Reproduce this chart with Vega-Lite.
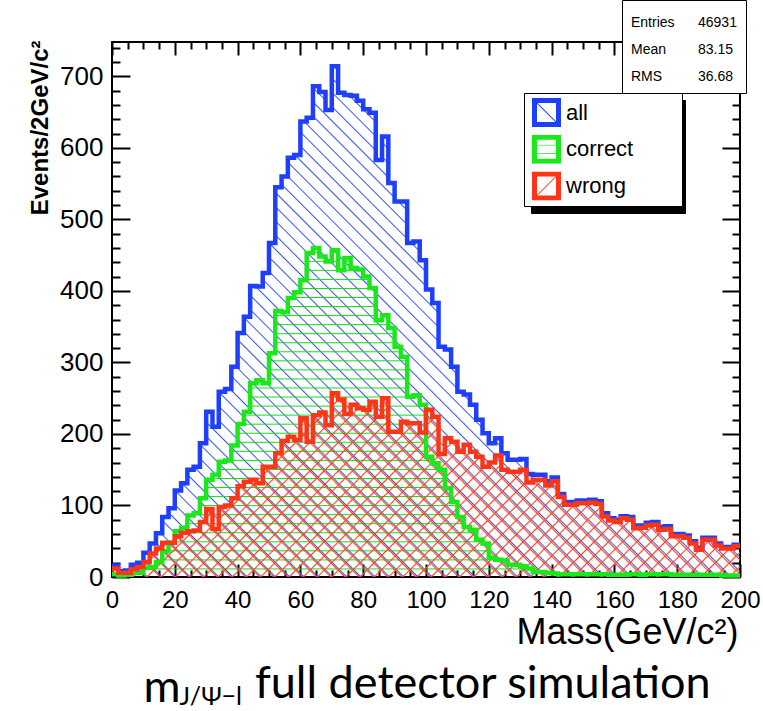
{
"$schema": "https://vega.github.io/schema/vega-lite/v6.json",
"width": 628, "height": 535,
"autosize": {"type": "none"},
"padding": {"left": 112, "top": 42, "right": 23, "bottom": 134},
"background": "white",
"config": {"view": {"stroke": "black", "strokeWidth": 2}, "font": "Liberation Sans", "axis": {"labelFont": "Liberation Sans", "titleFont": "Liberation Sans", "labelColor": "black", "titleColor": "black", "tickColor": "black"}},
"title": {"text": "full detector simulation", "orient": "top", "anchor": "start", "frame": "group", "align": "left", "baseline": "alphabetic", "dx": 143, "offset": -743, "font": "Lato", "fontSize": 45, "fontWeight": "normal", "color": "black"},
"datasets": {
"h": [
{"m":0,"all":16,"correct":4,"wrong":12},{"m":2,"all":8,"correct":2,"wrong":6},{"m":4,"all":9,"correct":3,"wrong":6},{"m":6,"all":17,"correct":6,"wrong":11},{"m":8,"all":20,"correct":6,"wrong":14},
{"m":10,"all":34,"correct":13,"wrong":21},{"m":12,"all":47,"correct":14,"wrong":33},{"m":14,"all":61,"correct":21,"wrong":40},{"m":16,"all":84,"correct":36,"wrong":48},{"m":18,"all":96,"correct":48,"wrong":48},
{"m":20,"all":121,"correct":64,"wrong":57},{"m":22,"all":131,"correct":69,"wrong":62},{"m":24,"all":150,"correct":86,"wrong":64},{"m":26,"all":154,"correct":89,"wrong":65},{"m":28,"all":187,"correct":110,"wrong":77},
{"m":30,"all":231,"correct":136,"wrong":95},{"m":32,"all":210,"correct":143,"wrong":67},{"m":34,"all":259,"correct":161,"wrong":98},{"m":36,"all":263,"correct":163,"wrong":100},{"m":38,"all":294,"correct":184,"wrong":110},
{"m":40,"all":341,"correct":214,"wrong":127},{"m":42,"all":364,"correct":231,"wrong":133},{"m":44,"all":407,"correct":271,"wrong":136},{"m":46,"all":406,"correct":275,"wrong":131},{"m":48,"all":425,"correct":271,"wrong":154},
{"m":50,"all":467,"correct":313,"wrong":154},{"m":52,"all":545,"correct":372,"wrong":173},{"m":54,"all":560,"correct":370,"wrong":190},{"m":56,"all":586,"correct":390,"wrong":196},{"m":58,"all":590,"correct":398,"wrong":192},
{"m":60,"all":637,"correct":415,"wrong":222},{"m":62,"all":642,"correct":453,"wrong":189},{"m":64,"all":686,"correct":460,"wrong":226},{"m":66,"all":678,"correct":448,"wrong":230},{"m":68,"all":653,"correct":441,"wrong":212},
{"m":70,"all":714,"correct":457,"wrong":257},{"m":72,"all":677,"correct":429,"wrong":248},{"m":74,"all":674,"correct":446,"wrong":228},{"m":76,"all":673,"correct":432,"wrong":241},{"m":78,"all":666,"correct":430,"wrong":236},
{"m":80,"all":654,"correct":420,"wrong":234},{"m":82,"all":649,"correct":404,"wrong":245},{"m":84,"all":583,"correct":359,"wrong":224},{"m":86,"all":616,"correct":366,"wrong":250},{"m":88,"all":551,"correct":348,"wrong":203},
{"m":90,"all":525,"correct":322,"wrong":203},{"m":92,"all":525,"correct":308,"wrong":217},{"m":94,"all":467,"correct":252,"wrong":215},{"m":96,"all":469,"correct":254,"wrong":215},{"m":98,"all":443,"correct":241,"wrong":202},
{"m":100,"all":402,"correct":168,"wrong":234},{"m":102,"all":383,"correct":159,"wrong":224},{"m":104,"all":322,"correct":150,"wrong":172},{"m":106,"all":318,"correct":124,"wrong":194},{"m":108,"all":294,"correct":105,"wrong":189},
{"m":110,"all":259,"correct":84,"wrong":175},{"m":112,"all":255,"correct":70,"wrong":185},{"m":114,"all":241,"correct":66,"wrong":175},{"m":116,"all":220,"correct":52,"wrong":168},{"m":118,"all":201,"correct":47,"wrong":154},
{"m":120,"all":187,"correct":27,"wrong":160},{"m":122,"all":194,"correct":24,"wrong":170},{"m":124,"all":173,"correct":23,"wrong":150},{"m":126,"all":164,"correct":17,"wrong":147},{"m":128,"all":164,"correct":17,"wrong":147},
{"m":130,"all":165,"correct":15,"wrong":150},{"m":132,"all":144,"correct":12,"wrong":132},{"m":134,"all":143,"correct":7,"wrong":136},{"m":136,"all":143,"correct":7,"wrong":136},{"m":138,"all":134,"correct":6,"wrong":128},
{"m":140,"all":139,"correct":5,"wrong":134},{"m":142,"all":116,"correct":4,"wrong":112},{"m":144,"all":105,"correct":4,"wrong":101},{"m":146,"all":105,"correct":4,"wrong":101},{"m":148,"all":107,"correct":4,"wrong":103},
{"m":150,"all":107,"correct":4,"wrong":103},{"m":152,"all":108,"correct":4,"wrong":104},{"m":154,"all":106,"correct":4,"wrong":102},{"m":156,"all":89,"correct":4,"wrong":85},{"m":158,"all":82,"correct":3,"wrong":79},
{"m":160,"all":80,"correct":3,"wrong":77},{"m":162,"all":85,"correct":3,"wrong":82},{"m":164,"all":84,"correct":4,"wrong":80},{"m":166,"all":72,"correct":4,"wrong":68},{"m":168,"all":72,"correct":3,"wrong":69},
{"m":170,"all":76,"correct":4,"wrong":72},{"m":172,"all":77,"correct":4,"wrong":73},{"m":174,"all":70,"correct":4,"wrong":66},{"m":176,"all":71,"correct":4,"wrong":67},{"m":178,"all":60,"correct":3,"wrong":57},
{"m":180,"all":60,"correct":3,"wrong":57},{"m":182,"all":58,"correct":3,"wrong":55},{"m":184,"all":50,"correct":3,"wrong":47},{"m":186,"all":41,"correct":3,"wrong":38},{"m":188,"all":55,"correct":3,"wrong":52},
{"m":190,"all":55,"correct":3,"wrong":52},{"m":192,"all":47,"correct":3,"wrong":44},{"m":194,"all":42,"correct":2,"wrong":40},{"m":196,"all":42,"correct":2,"wrong":40},{"m":198,"all":45,"correct":2,"wrong":43},
{"m":200,"all":45,"correct":2,"wrong":43}
],
"stats": [{"name":"Entries","val":"46931"},{"name":"Mean","val":"83.15"},{"name":"RMS","val":"36.68"}]
},
"resolve": {"axis": {"x": "independent", "y": "independent"}},
"layer": [
{
"data": {"name": "h"},
"transform": [{"fold": ["all","correct","wrong"], "as": ["k2","n2"]}],
"mark": {"type": "point", "opacity": 0},
"encoding": {
"fill": {"field": "k2", "type": "nominal", "scale": {"domain": ["s1","s2","s3"], "range": ["black","black","black"]},
"legend": {"orient": "none", "legendX": 419, "legendY": 58, "title": null, "symbolType": "square", "symbolSize": 576, "symbolStrokeWidth": 5, "symbolStrokeColor": "black", "symbolOffset": 3, "clipHeight": 29, "labelFontSize": 22, "labelFont": "Liberation Sans", "labelColor": "black", "labelOffset": 112, "rowPadding": 7.7, "padding": 5, "fillColor": "black", "strokeColor": "black", "labelExpr": "''"}}
}
},
{
"data": {"name": "h"},
"mark": {"type": "area", "interpolate": "step-after", "strokeWidth": 0,
"fill": {"gradient": "linear", "x1": 0, "y1": 1, "x2": 1.0914, "y2": 0.1125, "stops": [
{"offset":0.005,"color":"#35f0"},{"offset":0.00625,"color":"#35f"},{"offset":0.0075,"color":"#35f0"},
{"offset":0.0175,"color":"#35f0"},{"offset":0.01875,"color":"#35f"},{"offset":0.02,"color":"#35f0"},
{"offset":0.03,"color":"#35f0"},{"offset":0.03125,"color":"#35f"},{"offset":0.0325,"color":"#35f0"},
{"offset":0.0425,"color":"#35f0"},{"offset":0.04375,"color":"#35f"},{"offset":0.045,"color":"#35f0"},
{"offset":0.055,"color":"#35f0"},{"offset":0.05625,"color":"#35f"},{"offset":0.0575,"color":"#35f0"},
{"offset":0.0675,"color":"#35f0"},{"offset":0.06875,"color":"#35f"},{"offset":0.07,"color":"#35f0"},
{"offset":0.08,"color":"#35f0"},{"offset":0.08125,"color":"#35f"},{"offset":0.0825,"color":"#35f0"},
{"offset":0.0925,"color":"#35f0"},{"offset":0.09375,"color":"#35f"},{"offset":0.095,"color":"#35f0"},
{"offset":0.105,"color":"#35f0"},{"offset":0.10625,"color":"#35f"},{"offset":0.1075,"color":"#35f0"},
{"offset":0.1175,"color":"#35f0"},{"offset":0.11875,"color":"#35f"},{"offset":0.12,"color":"#35f0"},
{"offset":0.13,"color":"#35f0"},{"offset":0.13125,"color":"#35f"},{"offset":0.1325,"color":"#35f0"},
{"offset":0.1425,"color":"#35f0"},{"offset":0.14375,"color":"#35f"},{"offset":0.145,"color":"#35f0"},
{"offset":0.155,"color":"#35f0"},{"offset":0.15625,"color":"#35f"},{"offset":0.1575,"color":"#35f0"},
{"offset":0.1675,"color":"#35f0"},{"offset":0.16875,"color":"#35f"},{"offset":0.17,"color":"#35f0"},
{"offset":0.18,"color":"#35f0"},{"offset":0.18125,"color":"#35f"},{"offset":0.1825,"color":"#35f0"},
{"offset":0.1925,"color":"#35f0"},{"offset":0.19375,"color":"#35f"},{"offset":0.195,"color":"#35f0"},
{"offset":0.205,"color":"#35f0"},{"offset":0.20625,"color":"#35f"},{"offset":0.2075,"color":"#35f0"},
{"offset":0.2175,"color":"#35f0"},{"offset":0.21875,"color":"#35f"},{"offset":0.22,"color":"#35f0"},
{"offset":0.23,"color":"#35f0"},{"offset":0.23125,"color":"#35f"},{"offset":0.2325,"color":"#35f0"},
{"offset":0.2425,"color":"#35f0"},{"offset":0.24375,"color":"#35f"},{"offset":0.245,"color":"#35f0"},
{"offset":0.255,"color":"#35f0"},{"offset":0.25625,"color":"#35f"},{"offset":0.2575,"color":"#35f0"},
{"offset":0.2675,"color":"#35f0"},{"offset":0.26875,"color":"#35f"},{"offset":0.27,"color":"#35f0"},
{"offset":0.28,"color":"#35f0"},{"offset":0.28125,"color":"#35f"},{"offset":0.2825,"color":"#35f0"},
{"offset":0.2925,"color":"#35f0"},{"offset":0.29375,"color":"#35f"},{"offset":0.295,"color":"#35f0"},
{"offset":0.305,"color":"#35f0"},{"offset":0.30625,"color":"#35f"},{"offset":0.3075,"color":"#35f0"},
{"offset":0.3175,"color":"#35f0"},{"offset":0.31875,"color":"#35f"},{"offset":0.32,"color":"#35f0"},
{"offset":0.33,"color":"#35f0"},{"offset":0.33125,"color":"#35f"},{"offset":0.3325,"color":"#35f0"},
{"offset":0.3425,"color":"#35f0"},{"offset":0.34375,"color":"#35f"},{"offset":0.345,"color":"#35f0"},
{"offset":0.355,"color":"#35f0"},{"offset":0.35625,"color":"#35f"},{"offset":0.3575,"color":"#35f0"},
{"offset":0.3675,"color":"#35f0"},{"offset":0.36875,"color":"#35f"},{"offset":0.37,"color":"#35f0"},
{"offset":0.38,"color":"#35f0"},{"offset":0.38125,"color":"#35f"},{"offset":0.3825,"color":"#35f0"},
{"offset":0.3925,"color":"#35f0"},{"offset":0.39375,"color":"#35f"},{"offset":0.395,"color":"#35f0"},
{"offset":0.405,"color":"#35f0"},{"offset":0.40625,"color":"#35f"},{"offset":0.4075,"color":"#35f0"},
{"offset":0.4175,"color":"#35f0"},{"offset":0.41875,"color":"#35f"},{"offset":0.42,"color":"#35f0"},
{"offset":0.43,"color":"#35f0"},{"offset":0.43125,"color":"#35f"},{"offset":0.4325,"color":"#35f0"},
{"offset":0.4425,"color":"#35f0"},{"offset":0.44375,"color":"#35f"},{"offset":0.445,"color":"#35f0"},
{"offset":0.455,"color":"#35f0"},{"offset":0.45625,"color":"#35f"},{"offset":0.4575,"color":"#35f0"},
{"offset":0.4675,"color":"#35f0"},{"offset":0.46875,"color":"#35f"},{"offset":0.47,"color":"#35f0"},
{"offset":0.48,"color":"#35f0"},{"offset":0.48125,"color":"#35f"},{"offset":0.4825,"color":"#35f0"},
{"offset":0.4925,"color":"#35f0"},{"offset":0.49375,"color":"#35f"},{"offset":0.495,"color":"#35f0"},
{"offset":0.505,"color":"#35f0"},{"offset":0.50625,"color":"#35f"},{"offset":0.5075,"color":"#35f0"},
{"offset":0.5175,"color":"#35f0"},{"offset":0.51875,"color":"#35f"},{"offset":0.52,"color":"#35f0"},
{"offset":0.53,"color":"#35f0"},{"offset":0.53125,"color":"#35f"},{"offset":0.5325,"color":"#35f0"},
{"offset":0.5425,"color":"#35f0"},{"offset":0.54375,"color":"#35f"},{"offset":0.545,"color":"#35f0"},
{"offset":0.555,"color":"#35f0"},{"offset":0.55625,"color":"#35f"},{"offset":0.5575,"color":"#35f0"},
{"offset":0.5675,"color":"#35f0"},{"offset":0.56875,"color":"#35f"},{"offset":0.57,"color":"#35f0"},
{"offset":0.58,"color":"#35f0"},{"offset":0.58125,"color":"#35f"},{"offset":0.5825,"color":"#35f0"},
{"offset":0.5925,"color":"#35f0"},{"offset":0.59375,"color":"#35f"},{"offset":0.595,"color":"#35f0"},
{"offset":0.605,"color":"#35f0"},{"offset":0.60625,"color":"#35f"},{"offset":0.6075,"color":"#35f0"},
{"offset":0.6175,"color":"#35f0"},{"offset":0.61875,"color":"#35f"},{"offset":0.62,"color":"#35f0"},
{"offset":0.63,"color":"#35f0"},{"offset":0.63125,"color":"#35f"},{"offset":0.6325,"color":"#35f0"},
{"offset":0.6425,"color":"#35f0"},{"offset":0.64375,"color":"#35f"},{"offset":0.645,"color":"#35f0"},
{"offset":0.655,"color":"#35f0"},{"offset":0.65625,"color":"#35f"},{"offset":0.6575,"color":"#35f0"},
{"offset":0.6675,"color":"#35f0"},{"offset":0.66875,"color":"#35f"},{"offset":0.67,"color":"#35f0"},
{"offset":0.68,"color":"#35f0"},{"offset":0.68125,"color":"#35f"},{"offset":0.6825,"color":"#35f0"},
{"offset":0.6925,"color":"#35f0"},{"offset":0.69375,"color":"#35f"},{"offset":0.695,"color":"#35f0"},
{"offset":0.705,"color":"#35f0"},{"offset":0.70625,"color":"#35f"},{"offset":0.7075,"color":"#35f0"},
{"offset":0.7175,"color":"#35f0"},{"offset":0.71875,"color":"#35f"},{"offset":0.72,"color":"#35f0"},
{"offset":0.73,"color":"#35f0"},{"offset":0.73125,"color":"#35f"},{"offset":0.7325,"color":"#35f0"},
{"offset":0.7425,"color":"#35f0"},{"offset":0.74375,"color":"#35f"},{"offset":0.745,"color":"#35f0"},
{"offset":0.755,"color":"#35f0"},{"offset":0.75625,"color":"#35f"},{"offset":0.7575,"color":"#35f0"},
{"offset":0.7675,"color":"#35f0"},{"offset":0.76875,"color":"#35f"},{"offset":0.77,"color":"#35f0"},
{"offset":0.78,"color":"#35f0"},{"offset":0.78125,"color":"#35f"},{"offset":0.7825,"color":"#35f0"},
{"offset":0.7925,"color":"#35f0"},{"offset":0.79375,"color":"#35f"},{"offset":0.795,"color":"#35f0"},
{"offset":0.805,"color":"#35f0"},{"offset":0.80625,"color":"#35f"},{"offset":0.8075,"color":"#35f0"},
{"offset":0.8175,"color":"#35f0"},{"offset":0.81875,"color":"#35f"},{"offset":0.82,"color":"#35f0"},
{"offset":0.83,"color":"#35f0"},{"offset":0.83125,"color":"#35f"},{"offset":0.8325,"color":"#35f0"},
{"offset":0.8425,"color":"#35f0"},{"offset":0.84375,"color":"#35f"},{"offset":0.845,"color":"#35f0"},
{"offset":0.855,"color":"#35f0"},{"offset":0.85625,"color":"#35f"},{"offset":0.8575,"color":"#35f0"},
{"offset":0.8675,"color":"#35f0"},{"offset":0.86875,"color":"#35f"},{"offset":0.87,"color":"#35f0"},
{"offset":0.88,"color":"#35f0"},{"offset":0.88125,"color":"#35f"},{"offset":0.8825,"color":"#35f0"},
{"offset":0.8925,"color":"#35f0"},{"offset":0.89375,"color":"#35f"},{"offset":0.895,"color":"#35f0"},
{"offset":0.905,"color":"#35f0"},{"offset":0.90625,"color":"#35f"},{"offset":0.9075,"color":"#35f0"},
{"offset":0.9175,"color":"#35f0"},{"offset":0.91875,"color":"#35f"},{"offset":0.92,"color":"#35f0"},
{"offset":0.93,"color":"#35f0"},{"offset":0.93125,"color":"#35f"},{"offset":0.9325,"color":"#35f0"},
{"offset":0.9425,"color":"#35f0"},{"offset":0.94375,"color":"#35f"},{"offset":0.945,"color":"#35f0"},
{"offset":0.955,"color":"#35f0"},{"offset":0.95625,"color":"#35f"},{"offset":0.9575,"color":"#35f0"},
{"offset":0.9675,"color":"#35f0"},{"offset":0.96875,"color":"#35f"},{"offset":0.97,"color":"#35f0"},
{"offset":0.98,"color":"#35f0"},{"offset":0.98125,"color":"#35f"},{"offset":0.9825,"color":"#35f0"},
{"offset":0.9925,"color":"#35f0"},{"offset":0.99375,"color":"#35f"},{"offset":0.995,"color":"#35f0"}
]}},
"encoding": {
"x": {"field": "m", "type": "quantitative", "scale": {"domain": [0, 200], "nice": false, "zero": false},
"axis": {"orient": "bottom", "values": [0,5,10,15,20,25,30,35,40,45,50,55,60,65,70,75,80,85,90,95,100,105,110,115,120,125,130,135,140,145,150,155,160,165,170,175,180,185,190,195,200], "domain": false, "grid": false, "tickWidth": 2, "tickSize": {"condition": {"test": "datum.value % 20 === 0", "value": -13}, "value": -7}, "labelExpr": "datum.value % 20 === 0 ? datum.label : ''", "labelPadding": 24, "labelFontSize": 24, "labelOverlap": false, "labelFlush": false, "title": "Mass(GeV/c²)", "titleFontSize": 36, "titleFontWeight": "normal", "titleAnchor": "end", "titleAlign": "right", "titleBaseline": "alphabetic", "titleX": 626, "titleY": 66}},
"y": {"field": "all", "type": "quantitative", "scale": {"domain": [0, 748], "nice": false},
"axis": {"orient": "left", "values": [0,20,40,60,80,100,120,140,160,180,200,220,240,260,280,300,320,340,360,380,400,420,440,460,480,500,520,540,560,580,600,620,640,660,680,700,720,740], "domain": false, "grid": false, "tickWidth": 2, "tickSize": {"condition": {"test": "datum.value % 100 === 0", "value": -18}, "value": -8}, "labelExpr": "datum.value % 100 === 0 ? datum.label : ''", "labelPadding": 27, "labelFontSize": 26, "labelOverlap": false, "labelFlush": false, "title": "Events/2GeV/c²", "titleFontSize": 24, "titleFontWeight": "bold", "titleAngle": -90, "titleAlign": "right", "titleBaseline": "middle", "titleX": -72, "titleY": -2}}
}
},
{
"data": {"name": "h"},
"mark": {"type": "area", "interpolate": "step-after", "strokeWidth": 0,
"fill": {"gradient": "linear", "x1": 0, "y1": 0, "x2": 0, "y2": 1, "stops": [
{"offset":0.01,"color":"#1d10"},{"offset":0.013,"color":"#1d1"},{"offset":0.016,"color":"#1d10"},
{"offset":0.0375,"color":"#1d10"},{"offset":0.0405,"color":"#1d1"},{"offset":0.0435,"color":"#1d10"},
{"offset":0.065,"color":"#1d10"},{"offset":0.068,"color":"#1d1"},{"offset":0.071,"color":"#1d10"},
{"offset":0.0925,"color":"#1d10"},{"offset":0.0955,"color":"#1d1"},{"offset":0.0985,"color":"#1d10"},
{"offset":0.12,"color":"#1d10"},{"offset":0.123,"color":"#1d1"},{"offset":0.126,"color":"#1d10"},
{"offset":0.1475,"color":"#1d10"},{"offset":0.1505,"color":"#1d1"},{"offset":0.1535,"color":"#1d10"},
{"offset":0.175,"color":"#1d10"},{"offset":0.178,"color":"#1d1"},{"offset":0.181,"color":"#1d10"},
{"offset":0.2025,"color":"#1d10"},{"offset":0.2055,"color":"#1d1"},{"offset":0.2085,"color":"#1d10"},
{"offset":0.23,"color":"#1d10"},{"offset":0.233,"color":"#1d1"},{"offset":0.236,"color":"#1d10"},
{"offset":0.2575,"color":"#1d10"},{"offset":0.2605,"color":"#1d1"},{"offset":0.2635,"color":"#1d10"},
{"offset":0.285,"color":"#1d10"},{"offset":0.288,"color":"#1d1"},{"offset":0.291,"color":"#1d10"},
{"offset":0.3125,"color":"#1d10"},{"offset":0.3155,"color":"#1d1"},{"offset":0.3185,"color":"#1d10"},
{"offset":0.34,"color":"#1d10"},{"offset":0.343,"color":"#1d1"},{"offset":0.346,"color":"#1d10"},
{"offset":0.3675,"color":"#1d10"},{"offset":0.3705,"color":"#1d1"},{"offset":0.3735,"color":"#1d10"},
{"offset":0.395,"color":"#1d10"},{"offset":0.398,"color":"#1d1"},{"offset":0.401,"color":"#1d10"},
{"offset":0.4225,"color":"#1d10"},{"offset":0.4255,"color":"#1d1"},{"offset":0.4285,"color":"#1d10"},
{"offset":0.45,"color":"#1d10"},{"offset":0.453,"color":"#1d1"},{"offset":0.456,"color":"#1d10"},
{"offset":0.4775,"color":"#1d10"},{"offset":0.4805,"color":"#1d1"},{"offset":0.4835,"color":"#1d10"},
{"offset":0.505,"color":"#1d10"},{"offset":0.508,"color":"#1d1"},{"offset":0.511,"color":"#1d10"},
{"offset":0.5325,"color":"#1d10"},{"offset":0.5355,"color":"#1d1"},{"offset":0.5385,"color":"#1d10"},
{"offset":0.56,"color":"#1d10"},{"offset":0.563,"color":"#1d1"},{"offset":0.566,"color":"#1d10"},
{"offset":0.5875,"color":"#1d10"},{"offset":0.5905,"color":"#1d1"},{"offset":0.5935,"color":"#1d10"},
{"offset":0.615,"color":"#1d10"},{"offset":0.618,"color":"#1d1"},{"offset":0.621,"color":"#1d10"},
{"offset":0.6425,"color":"#1d10"},{"offset":0.6455,"color":"#1d1"},{"offset":0.6485,"color":"#1d10"},
{"offset":0.67,"color":"#1d10"},{"offset":0.673,"color":"#1d1"},{"offset":0.676,"color":"#1d10"},
{"offset":0.6975,"color":"#1d10"},{"offset":0.7005,"color":"#1d1"},{"offset":0.7035,"color":"#1d10"},
{"offset":0.725,"color":"#1d10"},{"offset":0.728,"color":"#1d1"},{"offset":0.731,"color":"#1d10"},
{"offset":0.7525,"color":"#1d10"},{"offset":0.7555,"color":"#1d1"},{"offset":0.7585,"color":"#1d10"},
{"offset":0.78,"color":"#1d10"},{"offset":0.783,"color":"#1d1"},{"offset":0.786,"color":"#1d10"},
{"offset":0.8075,"color":"#1d10"},{"offset":0.8105,"color":"#1d1"},{"offset":0.8135,"color":"#1d10"},
{"offset":0.835,"color":"#1d10"},{"offset":0.838,"color":"#1d1"},{"offset":0.841,"color":"#1d10"},
{"offset":0.8625,"color":"#1d10"},{"offset":0.8655,"color":"#1d1"},{"offset":0.8685,"color":"#1d10"},
{"offset":0.89,"color":"#1d10"},{"offset":0.893,"color":"#1d1"},{"offset":0.896,"color":"#1d10"},
{"offset":0.9175,"color":"#1d10"},{"offset":0.9205,"color":"#1d1"},{"offset":0.9235,"color":"#1d10"},
{"offset":0.945,"color":"#1d10"},{"offset":0.948,"color":"#1d1"},{"offset":0.951,"color":"#1d10"},
{"offset":0.9725,"color":"#1d10"},{"offset":0.9755,"color":"#1d1"},{"offset":0.9785,"color":"#1d10"}
]}},
"encoding": {
"x": {"field": "m", "type": "quantitative", "scale": {"domain": [0, 200], "nice": false, "zero": false},
"axis": {"orient": "top", "values": [0,5,10,15,20,25,30,35,40,45,50,55,60,65,70,75,80,85,90,95,100,105,110,115,120,125,130,135,140,145,150,155,160,165,170,175,180,185,190,195,200], "domain": false, "grid": false, "labels": false, "tickWidth": 2, "tickSize": {"condition": {"test": "datum.value % 20 === 0", "value": -13}, "value": -7}, "title": "m", "titleFont": "Lato", "titleFontSize": 45, "titleFontWeight": "normal", "titleAngle": 0, "titleAlign": "left", "titleBaseline": "alphabetic", "titleX": 31, "titleY": 659}},
"y": {"field": "correct", "type": "quantitative", "scale": {"domain": [0, 748], "nice": false},
"axis": {"orient": "right", "values": [0,20,40,60,80,100,120,140,160,180,200,220,240,260,280,300,320,340,360,380,400,420,440,460,480,500,520,540,560,580,600,620,640,660,680,700,720,740], "domain": false, "grid": false, "labels": false, "tickWidth": 2, "tickSize": {"condition": {"test": "datum.value % 100 === 0", "value": -18}, "value": -8}, "title": "J/Ψ−l", "titleFont": "Lato", "titleFontSize": 25, "titleFontWeight": "normal", "titleAngle": 0, "titleAlign": "left", "titleBaseline": "alphabetic", "titleX": -561, "titleY": 662}}
}
},
{
"data": {"name": "h"},
"mark": {"type": "area", "interpolate": "step-after", "strokeWidth": 0,
"fill": {"gradient": "linear", "x1": 0, "y1": 0, "x2": 1.1907, "y2": 0.3485, "stops": [
{"offset":0.005,"color":"#f420"},{"offset":0.007,"color":"#f42"},{"offset":0.009,"color":"#f420"},
{"offset":0.0225,"color":"#f420"},{"offset":0.0245,"color":"#f42"},{"offset":0.0265,"color":"#f420"},
{"offset":0.04,"color":"#f420"},{"offset":0.042,"color":"#f42"},{"offset":0.044,"color":"#f420"},
{"offset":0.0575,"color":"#f420"},{"offset":0.0595,"color":"#f42"},{"offset":0.0615,"color":"#f420"},
{"offset":0.075,"color":"#f420"},{"offset":0.077,"color":"#f42"},{"offset":0.079,"color":"#f420"},
{"offset":0.0925,"color":"#f420"},{"offset":0.0945,"color":"#f42"},{"offset":0.0965,"color":"#f420"},
{"offset":0.11,"color":"#f420"},{"offset":0.112,"color":"#f42"},{"offset":0.114,"color":"#f420"},
{"offset":0.1275,"color":"#f420"},{"offset":0.1295,"color":"#f42"},{"offset":0.1315,"color":"#f420"},
{"offset":0.145,"color":"#f420"},{"offset":0.147,"color":"#f42"},{"offset":0.149,"color":"#f420"},
{"offset":0.1625,"color":"#f420"},{"offset":0.1645,"color":"#f42"},{"offset":0.1665,"color":"#f420"},
{"offset":0.18,"color":"#f420"},{"offset":0.182,"color":"#f42"},{"offset":0.184,"color":"#f420"},
{"offset":0.1975,"color":"#f420"},{"offset":0.1995,"color":"#f42"},{"offset":0.2015,"color":"#f420"},
{"offset":0.215,"color":"#f420"},{"offset":0.217,"color":"#f42"},{"offset":0.219,"color":"#f420"},
{"offset":0.2325,"color":"#f420"},{"offset":0.2345,"color":"#f42"},{"offset":0.2365,"color":"#f420"},
{"offset":0.25,"color":"#f420"},{"offset":0.252,"color":"#f42"},{"offset":0.254,"color":"#f420"},
{"offset":0.2675,"color":"#f420"},{"offset":0.2695,"color":"#f42"},{"offset":0.2715,"color":"#f420"},
{"offset":0.285,"color":"#f420"},{"offset":0.287,"color":"#f42"},{"offset":0.289,"color":"#f420"},
{"offset":0.3025,"color":"#f420"},{"offset":0.3045,"color":"#f42"},{"offset":0.3065,"color":"#f420"},
{"offset":0.32,"color":"#f420"},{"offset":0.322,"color":"#f42"},{"offset":0.324,"color":"#f420"},
{"offset":0.3375,"color":"#f420"},{"offset":0.3395,"color":"#f42"},{"offset":0.3415,"color":"#f420"},
{"offset":0.355,"color":"#f420"},{"offset":0.357,"color":"#f42"},{"offset":0.359,"color":"#f420"},
{"offset":0.3725,"color":"#f420"},{"offset":0.3745,"color":"#f42"},{"offset":0.3765,"color":"#f420"},
{"offset":0.39,"color":"#f420"},{"offset":0.392,"color":"#f42"},{"offset":0.394,"color":"#f420"},
{"offset":0.4075,"color":"#f420"},{"offset":0.4095,"color":"#f42"},{"offset":0.4115,"color":"#f420"},
{"offset":0.425,"color":"#f420"},{"offset":0.427,"color":"#f42"},{"offset":0.429,"color":"#f420"},
{"offset":0.4425,"color":"#f420"},{"offset":0.4445,"color":"#f42"},{"offset":0.4465,"color":"#f420"},
{"offset":0.46,"color":"#f420"},{"offset":0.462,"color":"#f42"},{"offset":0.464,"color":"#f420"},
{"offset":0.4775,"color":"#f420"},{"offset":0.4795,"color":"#f42"},{"offset":0.4815,"color":"#f420"},
{"offset":0.495,"color":"#f420"},{"offset":0.497,"color":"#f42"},{"offset":0.499,"color":"#f420"},
{"offset":0.5125,"color":"#f420"},{"offset":0.5145,"color":"#f42"},{"offset":0.5165,"color":"#f420"},
{"offset":0.53,"color":"#f420"},{"offset":0.532,"color":"#f42"},{"offset":0.534,"color":"#f420"},
{"offset":0.5475,"color":"#f420"},{"offset":0.5495,"color":"#f42"},{"offset":0.5515,"color":"#f420"},
{"offset":0.565,"color":"#f420"},{"offset":0.567,"color":"#f42"},{"offset":0.569,"color":"#f420"},
{"offset":0.5825,"color":"#f420"},{"offset":0.5845,"color":"#f42"},{"offset":0.5865,"color":"#f420"},
{"offset":0.6,"color":"#f420"},{"offset":0.602,"color":"#f42"},{"offset":0.604,"color":"#f420"},
{"offset":0.6175,"color":"#f420"},{"offset":0.6195,"color":"#f42"},{"offset":0.6215,"color":"#f420"},
{"offset":0.635,"color":"#f420"},{"offset":0.637,"color":"#f42"},{"offset":0.639,"color":"#f420"},
{"offset":0.6525,"color":"#f420"},{"offset":0.6545,"color":"#f42"},{"offset":0.6565,"color":"#f420"},
{"offset":0.67,"color":"#f420"},{"offset":0.672,"color":"#f42"},{"offset":0.674,"color":"#f420"},
{"offset":0.6875,"color":"#f420"},{"offset":0.6895,"color":"#f42"},{"offset":0.6915,"color":"#f420"},
{"offset":0.705,"color":"#f420"},{"offset":0.707,"color":"#f42"},{"offset":0.709,"color":"#f420"},
{"offset":0.7225,"color":"#f420"},{"offset":0.7245,"color":"#f42"},{"offset":0.7265,"color":"#f420"},
{"offset":0.74,"color":"#f420"},{"offset":0.742,"color":"#f42"},{"offset":0.744,"color":"#f420"},
{"offset":0.7575,"color":"#f420"},{"offset":0.7595,"color":"#f42"},{"offset":0.7615,"color":"#f420"},
{"offset":0.775,"color":"#f420"},{"offset":0.777,"color":"#f42"},{"offset":0.779,"color":"#f420"},
{"offset":0.7925,"color":"#f420"},{"offset":0.7945,"color":"#f42"},{"offset":0.7965,"color":"#f420"},
{"offset":0.81,"color":"#f420"},{"offset":0.812,"color":"#f42"},{"offset":0.814,"color":"#f420"},
{"offset":0.8275,"color":"#f420"},{"offset":0.8295,"color":"#f42"},{"offset":0.8315,"color":"#f420"},
{"offset":0.845,"color":"#f420"},{"offset":0.847,"color":"#f42"},{"offset":0.849,"color":"#f420"},
{"offset":0.8625,"color":"#f420"},{"offset":0.8645,"color":"#f42"},{"offset":0.8665,"color":"#f420"},
{"offset":0.88,"color":"#f420"},{"offset":0.882,"color":"#f42"},{"offset":0.884,"color":"#f420"},
{"offset":0.8975,"color":"#f420"},{"offset":0.8995,"color":"#f42"},{"offset":0.9015,"color":"#f420"},
{"offset":0.915,"color":"#f420"},{"offset":0.917,"color":"#f42"},{"offset":0.919,"color":"#f420"},
{"offset":0.9325,"color":"#f420"},{"offset":0.9345,"color":"#f42"},{"offset":0.9365,"color":"#f420"},
{"offset":0.95,"color":"#f420"},{"offset":0.952,"color":"#f42"},{"offset":0.954,"color":"#f420"},
{"offset":0.9675,"color":"#f420"},{"offset":0.9695,"color":"#f42"},{"offset":0.9715,"color":"#f420"},
{"offset":0.985,"color":"#f420"},{"offset":0.987,"color":"#f42"},{"offset":0.989,"color":"#f420"}
]}},
"encoding": {
"x": {"field": "m", "type": "quantitative", "scale": {"domain": [0, 200], "nice": false, "zero": false}, "axis": null},
"y": {"field": "wrong", "type": "quantitative", "scale": {"domain": [0, 748], "nice": false}, "axis": null}
}
},
{
"data": {"name": "h"},
"mark": {"type": "area", "interpolate": "step-after", "strokeWidth": 0,
"fill": {"gradient": "linear", "x1": 0, "y1": 1, "x2": 1.1907, "y2": 0.6515, "stops": [
{"offset":0.005,"color":"#f420"},{"offset":0.007,"color":"#f42"},{"offset":0.009,"color":"#f420"},
{"offset":0.0225,"color":"#f420"},{"offset":0.0245,"color":"#f42"},{"offset":0.0265,"color":"#f420"},
{"offset":0.04,"color":"#f420"},{"offset":0.042,"color":"#f42"},{"offset":0.044,"color":"#f420"},
{"offset":0.0575,"color":"#f420"},{"offset":0.0595,"color":"#f42"},{"offset":0.0615,"color":"#f420"},
{"offset":0.075,"color":"#f420"},{"offset":0.077,"color":"#f42"},{"offset":0.079,"color":"#f420"},
{"offset":0.0925,"color":"#f420"},{"offset":0.0945,"color":"#f42"},{"offset":0.0965,"color":"#f420"},
{"offset":0.11,"color":"#f420"},{"offset":0.112,"color":"#f42"},{"offset":0.114,"color":"#f420"},
{"offset":0.1275,"color":"#f420"},{"offset":0.1295,"color":"#f42"},{"offset":0.1315,"color":"#f420"},
{"offset":0.145,"color":"#f420"},{"offset":0.147,"color":"#f42"},{"offset":0.149,"color":"#f420"},
{"offset":0.1625,"color":"#f420"},{"offset":0.1645,"color":"#f42"},{"offset":0.1665,"color":"#f420"},
{"offset":0.18,"color":"#f420"},{"offset":0.182,"color":"#f42"},{"offset":0.184,"color":"#f420"},
{"offset":0.1975,"color":"#f420"},{"offset":0.1995,"color":"#f42"},{"offset":0.2015,"color":"#f420"},
{"offset":0.215,"color":"#f420"},{"offset":0.217,"color":"#f42"},{"offset":0.219,"color":"#f420"},
{"offset":0.2325,"color":"#f420"},{"offset":0.2345,"color":"#f42"},{"offset":0.2365,"color":"#f420"},
{"offset":0.25,"color":"#f420"},{"offset":0.252,"color":"#f42"},{"offset":0.254,"color":"#f420"},
{"offset":0.2675,"color":"#f420"},{"offset":0.2695,"color":"#f42"},{"offset":0.2715,"color":"#f420"},
{"offset":0.285,"color":"#f420"},{"offset":0.287,"color":"#f42"},{"offset":0.289,"color":"#f420"},
{"offset":0.3025,"color":"#f420"},{"offset":0.3045,"color":"#f42"},{"offset":0.3065,"color":"#f420"},
{"offset":0.32,"color":"#f420"},{"offset":0.322,"color":"#f42"},{"offset":0.324,"color":"#f420"},
{"offset":0.3375,"color":"#f420"},{"offset":0.3395,"color":"#f42"},{"offset":0.3415,"color":"#f420"},
{"offset":0.355,"color":"#f420"},{"offset":0.357,"color":"#f42"},{"offset":0.359,"color":"#f420"},
{"offset":0.3725,"color":"#f420"},{"offset":0.3745,"color":"#f42"},{"offset":0.3765,"color":"#f420"},
{"offset":0.39,"color":"#f420"},{"offset":0.392,"color":"#f42"},{"offset":0.394,"color":"#f420"},
{"offset":0.4075,"color":"#f420"},{"offset":0.4095,"color":"#f42"},{"offset":0.4115,"color":"#f420"},
{"offset":0.425,"color":"#f420"},{"offset":0.427,"color":"#f42"},{"offset":0.429,"color":"#f420"},
{"offset":0.4425,"color":"#f420"},{"offset":0.4445,"color":"#f42"},{"offset":0.4465,"color":"#f420"},
{"offset":0.46,"color":"#f420"},{"offset":0.462,"color":"#f42"},{"offset":0.464,"color":"#f420"},
{"offset":0.4775,"color":"#f420"},{"offset":0.4795,"color":"#f42"},{"offset":0.4815,"color":"#f420"},
{"offset":0.495,"color":"#f420"},{"offset":0.497,"color":"#f42"},{"offset":0.499,"color":"#f420"},
{"offset":0.5125,"color":"#f420"},{"offset":0.5145,"color":"#f42"},{"offset":0.5165,"color":"#f420"},
{"offset":0.53,"color":"#f420"},{"offset":0.532,"color":"#f42"},{"offset":0.534,"color":"#f420"},
{"offset":0.5475,"color":"#f420"},{"offset":0.5495,"color":"#f42"},{"offset":0.5515,"color":"#f420"},
{"offset":0.565,"color":"#f420"},{"offset":0.567,"color":"#f42"},{"offset":0.569,"color":"#f420"},
{"offset":0.5825,"color":"#f420"},{"offset":0.5845,"color":"#f42"},{"offset":0.5865,"color":"#f420"},
{"offset":0.6,"color":"#f420"},{"offset":0.602,"color":"#f42"},{"offset":0.604,"color":"#f420"},
{"offset":0.6175,"color":"#f420"},{"offset":0.6195,"color":"#f42"},{"offset":0.6215,"color":"#f420"},
{"offset":0.635,"color":"#f420"},{"offset":0.637,"color":"#f42"},{"offset":0.639,"color":"#f420"},
{"offset":0.6525,"color":"#f420"},{"offset":0.6545,"color":"#f42"},{"offset":0.6565,"color":"#f420"},
{"offset":0.67,"color":"#f420"},{"offset":0.672,"color":"#f42"},{"offset":0.674,"color":"#f420"},
{"offset":0.6875,"color":"#f420"},{"offset":0.6895,"color":"#f42"},{"offset":0.6915,"color":"#f420"},
{"offset":0.705,"color":"#f420"},{"offset":0.707,"color":"#f42"},{"offset":0.709,"color":"#f420"},
{"offset":0.7225,"color":"#f420"},{"offset":0.7245,"color":"#f42"},{"offset":0.7265,"color":"#f420"},
{"offset":0.74,"color":"#f420"},{"offset":0.742,"color":"#f42"},{"offset":0.744,"color":"#f420"},
{"offset":0.7575,"color":"#f420"},{"offset":0.7595,"color":"#f42"},{"offset":0.7615,"color":"#f420"},
{"offset":0.775,"color":"#f420"},{"offset":0.777,"color":"#f42"},{"offset":0.779,"color":"#f420"},
{"offset":0.7925,"color":"#f420"},{"offset":0.7945,"color":"#f42"},{"offset":0.7965,"color":"#f420"},
{"offset":0.81,"color":"#f420"},{"offset":0.812,"color":"#f42"},{"offset":0.814,"color":"#f420"},
{"offset":0.8275,"color":"#f420"},{"offset":0.8295,"color":"#f42"},{"offset":0.8315,"color":"#f420"},
{"offset":0.845,"color":"#f420"},{"offset":0.847,"color":"#f42"},{"offset":0.849,"color":"#f420"},
{"offset":0.8625,"color":"#f420"},{"offset":0.8645,"color":"#f42"},{"offset":0.8665,"color":"#f420"},
{"offset":0.88,"color":"#f420"},{"offset":0.882,"color":"#f42"},{"offset":0.884,"color":"#f420"},
{"offset":0.8975,"color":"#f420"},{"offset":0.8995,"color":"#f42"},{"offset":0.9015,"color":"#f420"},
{"offset":0.915,"color":"#f420"},{"offset":0.917,"color":"#f42"},{"offset":0.919,"color":"#f420"},
{"offset":0.9325,"color":"#f420"},{"offset":0.9345,"color":"#f42"},{"offset":0.9365,"color":"#f420"},
{"offset":0.95,"color":"#f420"},{"offset":0.952,"color":"#f42"},{"offset":0.954,"color":"#f420"},
{"offset":0.9675,"color":"#f420"},{"offset":0.9695,"color":"#f42"},{"offset":0.9715,"color":"#f420"},
{"offset":0.985,"color":"#f420"},{"offset":0.987,"color":"#f42"},{"offset":0.989,"color":"#f420"}
]}},
"encoding": {
"x": {"field": "m", "type": "quantitative", "scale": {"domain": [0, 200], "nice": false, "zero": false}, "axis": null},
"y": {"field": "wrong", "type": "quantitative", "scale": {"domain": [0, 748], "nice": false}, "axis": null}
}
},
{
"data": {"name": "h"},
"transform": [{"fold": ["all","correct","wrong"], "as": ["k","n"]}],
"mark": {"type": "line", "interpolate": "step-after", "strokeWidth": 4.5, "strokeJoin": "miter"},
"encoding": {
"x": {"field": "m", "type": "quantitative", "scale": {"domain": [0, 200], "nice": false, "zero": false}, "axis": null},
"y": {"field": "n", "type": "quantitative", "scale": {"domain": [0, 748], "nice": false}, "axis": null},
"stroke": {"field": "k", "type": "nominal", "scale": {"domain": ["all","correct","wrong"], "range": ["#1f3fff","#1be81b","#ff3517"]},
"legend": {"orient": "none", "legendX": 412, "legendY": 51, "title": null, "symbolType": "square", "symbolSize": 576, "symbolStrokeWidth": 5, "symbolFillColor": "white", "symbolOffset": 3, "clipHeight": 29, "labelFontSize": 22, "labelFont": "Liberation Sans", "labelColor": "black", "labelOffset": 5, "rowPadding": 7.7, "padding": 5, "fillColor": "white", "strokeColor": "black", "labelExpr": "datum.label + '\u00a0\u00a0\u00a0\u00a0\u00a0\u00a0\u00a0\u200b'",
"encode": {"symbols": {"update": {"fill": {"signal": "datum.value === 'all' ? {gradient:'linear',x1:0,y1:1,x2:1,y2:0,stops:[{offset:0.47,color:'#35f0'},{offset:0.5,color:'#35f'},{offset:0.53,color:'#35f0'}]} : datum.value === 'correct' ? {gradient:'linear',x1:0,y1:0,x2:0,y2:1,stops:[{offset:0.3,color:'#1d10'},{offset:0.33,color:'#1d1'},{offset:0.36,color:'#1d10'},{offset:0.64,color:'#1d10'},{offset:0.67,color:'#1d1'},{offset:0.7,color:'#1d10'}]} : {gradient:'linear',x1:0,y1:0,x2:1,y2:1,stops:[{offset:0.47,color:'#f420'},{offset:0.5,color:'#f42'},{offset:0.53,color:'#f420'}]}"}}}}}}
}
},
{
"data": {"name": "stats"},
"transform": [{"fold": ["name","val"], "as": ["k3","txt"]}],
"mark": {"type": "point", "opacity": 0},
"encoding": {
"shape": {"field": "txt", "type": "nominal", "sort": null,
"legend": {"orient": "none", "legendX": 510, "legendY": -42, "direction": "horizontal", "title": "\u00a0", "titleFontSize": 7, "titlePadding": 0, "columns": 2, "columnPadding": 23, "gridAlign": "each", "symbolSize": 0, "symbolOpacity": 0, "symbolStrokeWidth": 0, "labelFontSize": 14, "labelFont": "Liberation Sans", "labelColor": "black", "labelOffset": -14, "rowPadding": 13, "padding": 9, "fillColor": "white", "strokeColor": "black"}}
}
}
]
}
